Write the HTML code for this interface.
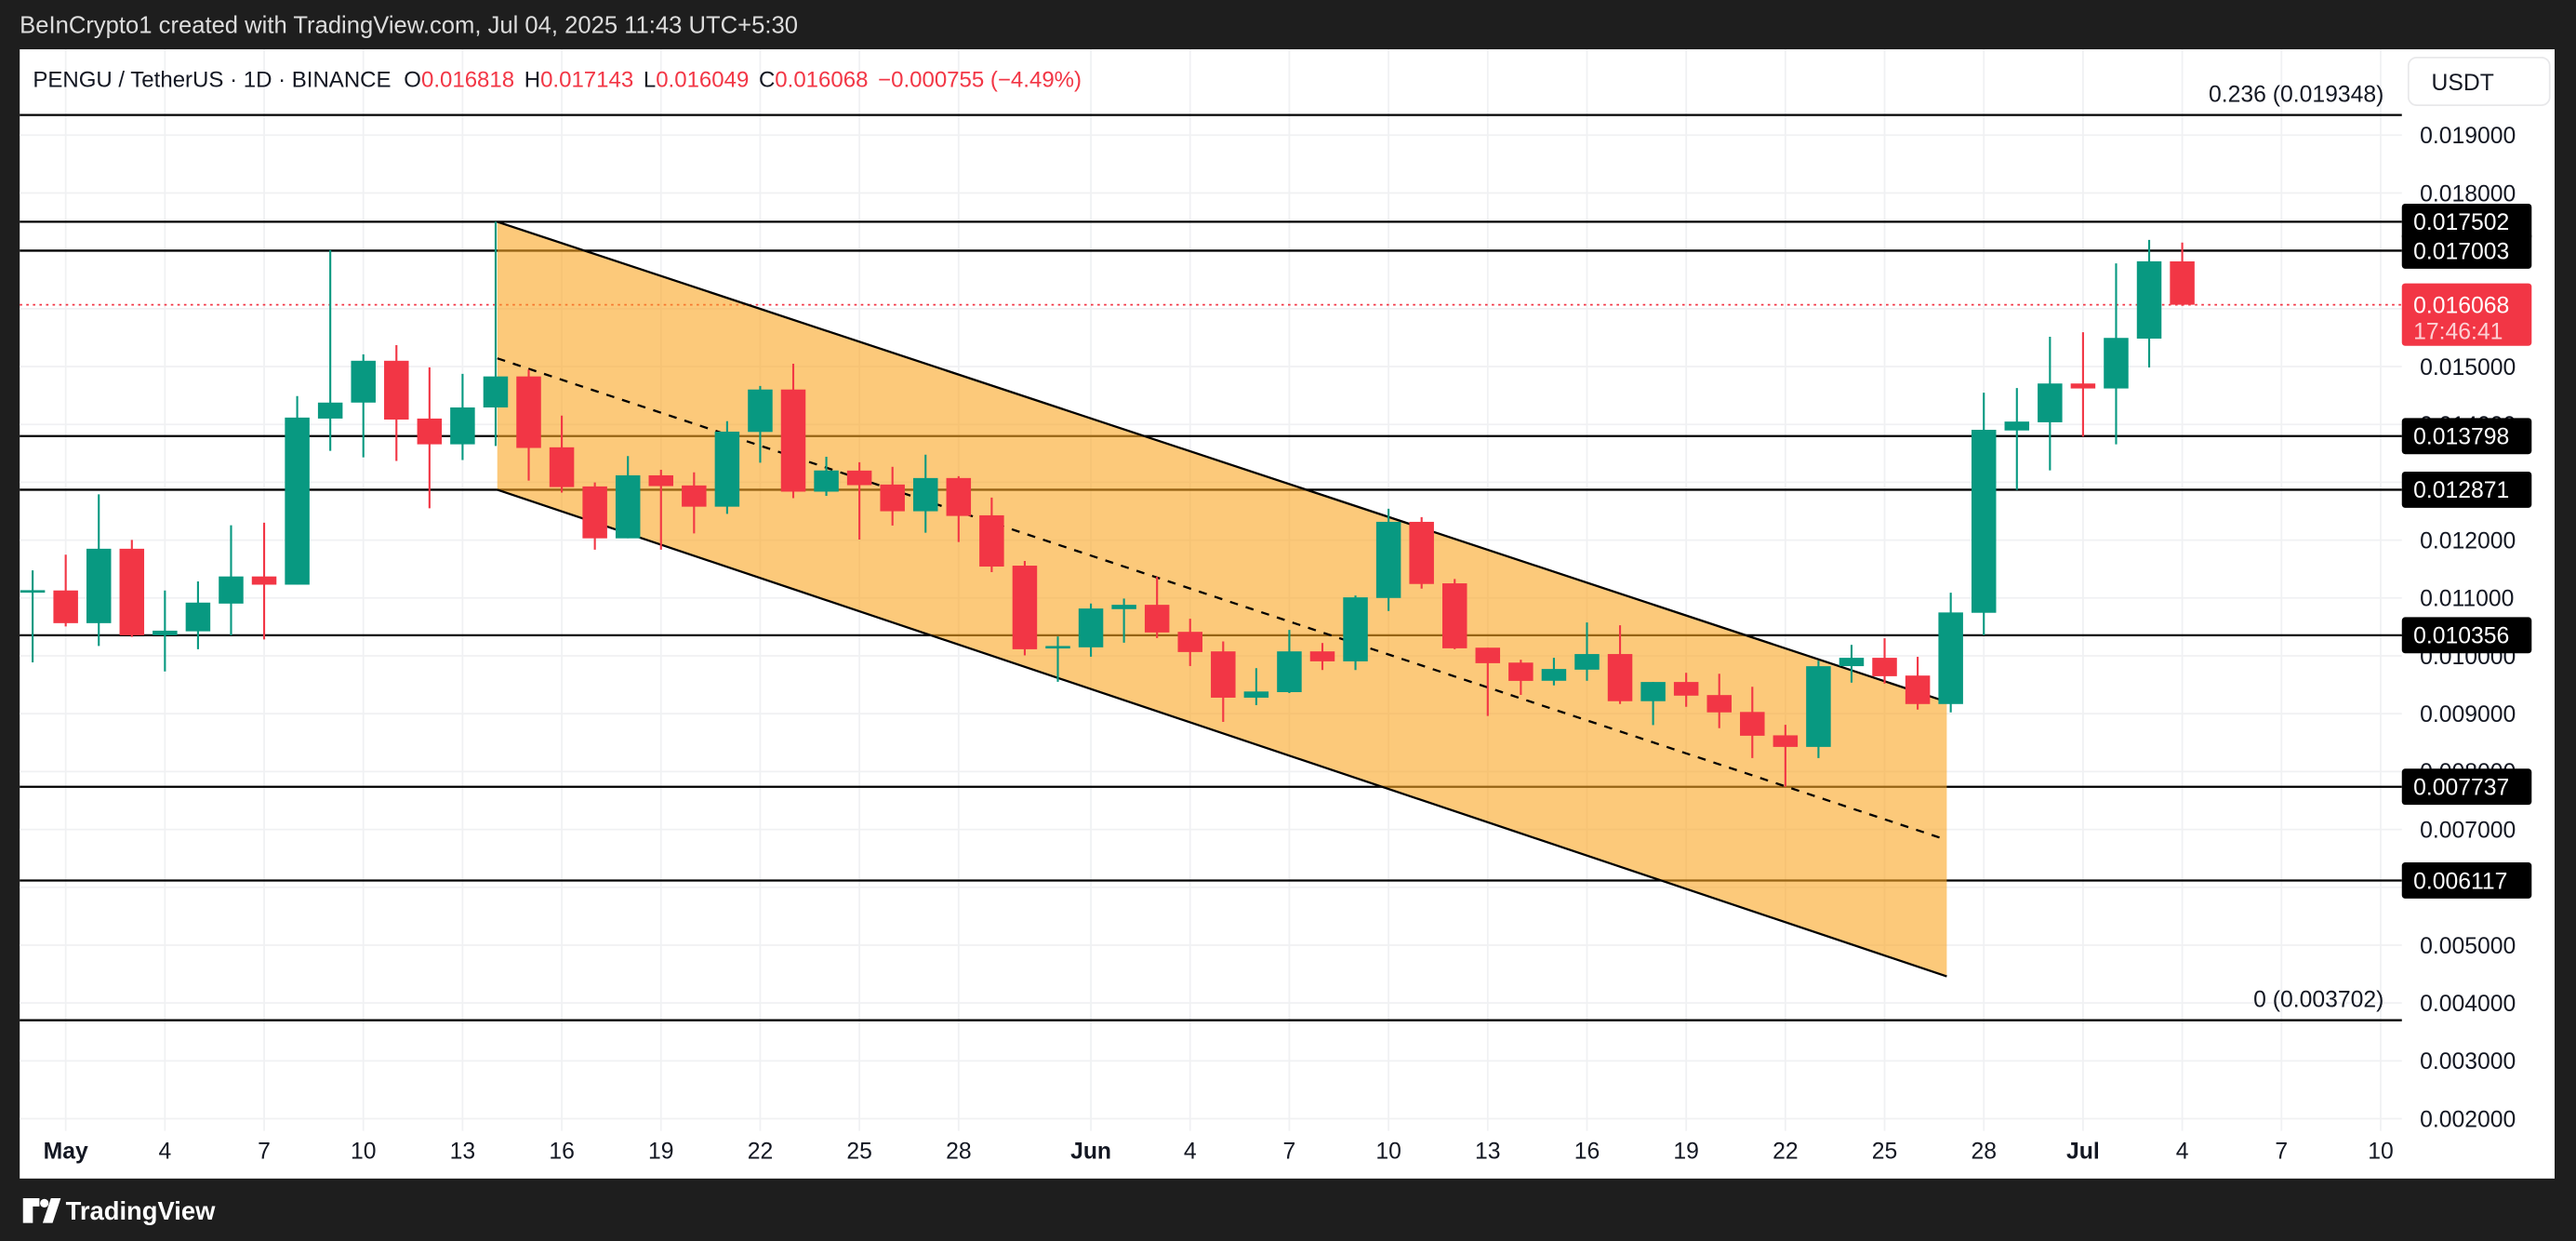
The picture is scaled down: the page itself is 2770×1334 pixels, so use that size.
<!DOCTYPE html>
<html><head><meta charset="utf-8"><style>
html,body{margin:0;padding:0;background:#1e1e1e;}
svg{display:block;}
text{font-family:"Liberation Sans",sans-serif;}
</style></head><body>
<svg id="chart" width="2770" height="1334" viewBox="0 0 1568 755" preserveAspectRatio="none" xmlns="http://www.w3.org/2000/svg">
<rect x="0" y="0" width="1568" height="755" fill="#1e1e1e"/>
<text x="12" y="20" fill="#dddddd" font-size="14.5">BeInCrypto1 created with TradingView.com, Jul 04, 2025 11:43 UTC+5:30</text>
<rect x="12" y="30" width="1543" height="687" fill="#ffffff"/>
<g id="grid"></g>
<g id="levels"></g>
<g id="channel"></g>
<g id="candles"></g>
<g id="yaxis"></g>
<g id="xaxis"></g>
<text x="20" y="53" font-size="13.6" fill="#131722">PENGU / TetherUS · 1D · BINANCE <tspan dx="4">O</tspan><tspan fill="#f23645">0.016818</tspan><tspan dx="6">H</tspan><tspan fill="#f23645">0.017143</tspan><tspan dx="6">L</tspan><tspan fill="#f23645">0.016049</tspan><tspan dx="6">C</tspan><tspan fill="#f23645">0.016068</tspan><tspan dx="6" fill="#f23645">−0.000755 (−4.49%)</tspan></text>
<rect x="1466" y="35" width="86" height="29" rx="5" fill="#fff" stroke="#e8e8ea"/>
<text x="1480" y="55" font-size="14" fill="#131722">USDT</text>
<rect x="1555" y="30" width="13" height="687" fill="#1e1e1e"/>
<g>
<path d="M14 729h10v5h-4v10h-6zM26 744l5-15h6l-5 15z" fill="#fff"/>
<circle cx="27" cy="732" r="2.6" fill="#fff"/>
<text x="40" y="742" font-size="15.5" font-weight="bold" fill="#ffffff">TradingView</text>
</g>
</svg>
<script>
const days=[-1,0,1,2,3,4,5,6,7,8,9,10,11,12,13,14,15,16,17,18,19,20,21,22,23,24,25,26,27,28,29,30,31,32,33,34,35,36,37,38,39,40,41,42,43,44,45,46,47,48,49,50,51,52,53,54,55,56,57,58,59,60,61,62,63,64];
const opens=[0.01113,0.01113,0.010565,0.011851,0.010356,0.010424,0.010903,0.011372,0.01123,0.014101,0.014377,0.0151,0.014101,0.013656,0.014293,0.014829,0.013604,0.012928,0.012031,0.01312,0.012945,0.012578,0.01387,0.014603,0.012838,0.013202,0.012961,0.012499,0.013073,0.012429,0.011559,0.010163,0.010147,0.010807,0.010882,0.010415,0.010077,0.009277,0.009373,0.010077,0.009905,0.011,0.012316,0.011253,0.010141,0.009883,0.009569,0.009761,0.010031,0.009216,0.009548,0.009322,0.00903,0.008626,0.008426,0.009822,0.009966,0.009659,0.009167,0.010744,0.013895,0.014037,0.014707,0.014621,0.015483,0.016818];
const highs=[0.011478,0.011749,0.012792,0.012003,0.01113,0.011287,0.012257,0.012302,0.01449,0.017012,0.015212,0.01537,0.014987,0.014874,0.017502,0.014947,0.014152,0.012997,0.013452,0.013216,0.013171,0.014056,0.014665,0.015049,0.013441,0.013347,0.013267,0.013476,0.013105,0.012735,0.011639,0.010335,0.010904,0.01099,0.011366,0.010641,0.010249,0.009787,0.010447,0.010222,0.011043,0.012542,0.012397,0.011328,0.010141,0.009932,0.009966,0.010577,0.010528,0.009548,0.009707,0.00969,0.009466,0.008807,0.009918,0.01019,0.010304,0.009983,0.011091,0.014548,0.014628,0.015514,0.015594,0.016782,0.017188,0.017143];
const lows=[0.009888,0.010509,0.01017,0.010328,0.00973,0.010114,0.010351,0.010283,0.01123,0.013543,0.01343,0.013368,0.01255,0.013385,0.013627,0.013029,0.012821,0.011834,0.012031,0.011834,0.012116,0.012454,0.013339,0.012725,0.012765,0.01201,0.012252,0.012128,0.011967,0.011446,0.010007,0.009551,0.009985,0.010227,0.010308,0.009824,0.008858,0.009148,0.009357,0.009755,0.009755,0.010775,0.011161,0.010114,0.00896,0.009325,0.009489,0.009569,0.009167,0.008803,0.009119,0.00875,0.008233,0.007737,0.008233,0.009537,0.00952,0.009071,0.009023,0.010356,0.012867,0.013206,0.01379,0.013655,0.014985,0.016049];
const closes=[0.011135,0.010565,0.011851,0.010356,0.010435,0.01092,0.011372,0.01123,0.014118,0.014377,0.0151,0.014084,0.013656,0.014293,0.014829,0.013593,0.012917,0.012031,0.01312,0.012934,0.012578,0.013875,0.014603,0.012838,0.013204,0.01295,0.012499,0.013073,0.012418,0.011543,0.010114,0.01017,0.010818,0.010882,0.010404,0.010066,0.009277,0.009384,0.010077,0.009905,0.011011,0.012316,0.011242,0.01013,0.009873,0.009567,0.009773,0.010031,0.009216,0.009548,0.009312,0.009023,0.008619,0.008426,0.009821,0.009966,0.009648,0.009167,0.01075,0.013907,0.014049,0.014707,0.014621,0.015495,0.016819,0.016068];
const priceTicks=[0.019,0.018,0.017,0.016,0.015,0.014,0.013,0.012,0.011,0.010,0.009,0.008,0.007,0.006,0.005,0.004,0.003,0.002];
const timeLabels=["May","4","7","10","13","16","19","22","25","28","Jun","4","7","10","13","16","19","22","25","28","Jul","4","7","10"];
const timeDays=[0,3,6,9,12,15,18,21,24,27,31,34,37,40,43,46,49,52,55,58,61,64,67,70];
const levelPrices=[0.019348,0.017502,0.017003,0.013798,0.012871,0.010356,0.007737,0.006117,0.003702];
const boxedLevels=[0.017502,0.017003,0.013798,0.012871,0.010356,0.007737,0.006117];
const channelDays=[13.05,56.88];
const channelUpper=[0.017502,0.009205];
const channelLower=[0.012871,0.00446];
const channelMid=[0.015142,0.006818];
const lastPrice=0.016068;

const NS="http://www.w3.org/2000/svg";
const X=d=>40+d*20.13;
const Y=p=>399-(p-0.010)*35200;
function mk(parent,tag,attrs){const e=document.createElementNS(NS,tag);for(const k in attrs)e.setAttribute(k,attrs[k]);parent.appendChild(e);return e;}
const G=id=>document.getElementById(id);

const grid=G('grid');
priceTicks.forEach(p=>{const l=mk(grid,'line',{x1:12,x2:1462,y1:Y(p),y2:Y(p),stroke:'#f0f1f3','stroke-width':1});

});
timeDays.forEach(d=>{const l=mk(grid,'line',{x1:X(d),x2:X(d),y1:30,y2:688,stroke:'#f0f1f3','stroke-width':1});

});

const lv=G('levels');
levelPrices.forEach(p=>{const l=mk(lv,'line',{x1:12,x2:1462,y1:Y(p),y2:Y(p),stroke:'#000','stroke-width':1.3});

});
const fib1=mk(lv,'text',{x:1451,y:Y(0.019348)-8,'font-size':14,fill:'#131722','text-anchor':'end'});fib1.textContent='0.236 (0.019348)';


const fib0=mk(lv,'text',{x:1451,y:Y(0.003702)-8,'font-size':14,fill:'#131722','text-anchor':'end'});fib0.textContent='0 (0.003702)';


const cur=mk(lv,'line',{x1:12,x2:1462,y1:Y(lastPrice),y2:Y(lastPrice),stroke:'#f23645','stroke-width':1,'stroke-dasharray':'1.5 2.5'});



const ch=G('channel');
const x0=X(channelDays[0]),x1=X(channelDays[1]);
const poly=mk(ch,'polygon',{points:`${x0},${Y(channelUpper[0])} ${x1},${Y(channelUpper[1])} ${x1},${Y(channelLower[1])} ${x0},${Y(channelLower[0])}`,fill:'rgba(250,165,33,0.6)'});


const up=mk(ch,'line',{x1:x0,y1:Y(channelUpper[0]),x2:x1,y2:Y(channelUpper[1]),stroke:'#000','stroke-width':1.3});


const lo=mk(ch,'line',{x1:x0,y1:Y(channelLower[0]),x2:x1,y2:Y(channelLower[1]),stroke:'#000','stroke-width':1.3});


const md=mk(ch,'line',{x1:x0,y1:Y(channelMid[0]),x2:x1,y2:Y(channelMid[1]),stroke:'#000','stroke-width':1.3,'stroke-dasharray':'5 5'});



const cg=G('candles');
days.forEach((d,i)=>{
  const o=opens[i],c=closes[i],h=highs[i],l=lows[i];
  const col=c>=o?'#089981':'#f23645';
  const x=X(d);
  const g=mk(cg,'g',{});
  
  
  mk(g,'line',{x1:x,x2:x,y1:Y(h),y2:Y(l),stroke:col,'stroke-width':1.2});
  const top=Y(Math.max(o,c)),bot=Y(Math.min(o,c));
  mk(g,'rect',{x:x-7.5,y:top,width:15,height:Math.max(1.5,bot-top),fill:col});
});

const ya=G('yaxis');
priceTicks.forEach(p=>{const t=mk(ya,'text',{x:1473,y:Y(p)+5,'font-size':14,fill:'#131722'});t.textContent=p.toFixed(6);

});
boxedLevels.forEach(p=>{
  const g=mk(ya,'g',{});
  
  
  mk(g,'rect',{x:1462,y:Y(p)-11,width:79,height:22,rx:2,fill:'#000'});
  const t=mk(g,'text',{x:1469,y:Y(p)+5,'font-size':14,fill:'#fff'});t.textContent=p.toFixed(6);
});
const lp=mk(ya,'g',{});


mk(lp,'rect',{x:1462,y:Y(lastPrice)-13,width:79,height:38,rx:2,fill:'#f23645'});
const lt=mk(lp,'text',{x:1469,y:Y(lastPrice)+5,'font-size':14,fill:'#fff'});lt.textContent=lastPrice.toFixed(6);
const ct=mk(lp,'text',{x:1469,y:Y(lastPrice)+21,'font-size':14,fill:'#fcd0d4'});ct.textContent='17:46:41';

const xa=G('xaxis');
timeDays.forEach((d,i)=>{const lab=timeLabels[i];const bold=isNaN(+lab);
const t=mk(xa,'text',{x:X(d),y:705,'font-size':14,fill:'#131722','text-anchor':'middle','font-weight':bold?'bold':'normal'});t.textContent=lab;

});
</script>
</body></html>
